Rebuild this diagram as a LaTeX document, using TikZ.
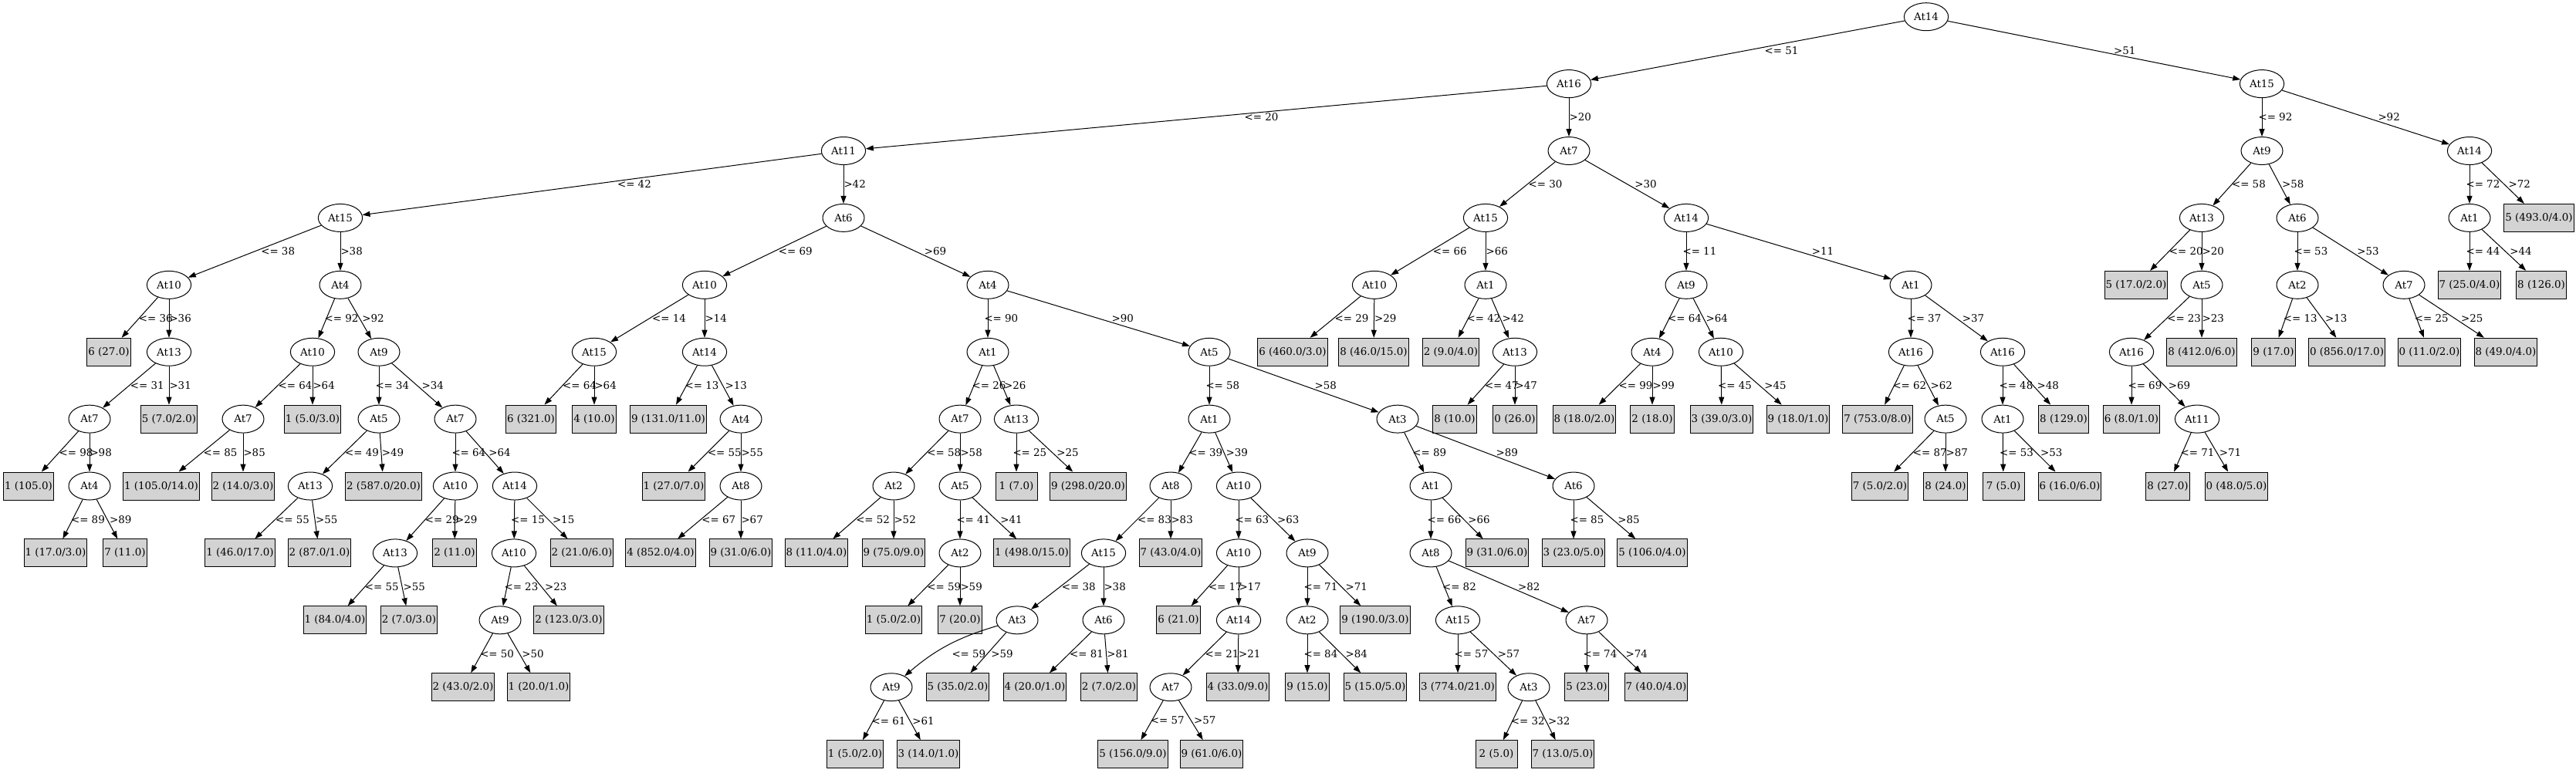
\documentclass[tikz,border=0pt]{standalone}
\usepackage{fontspec}
\setmainfont{DejaVu Serif}
\usetikzlibrary{shapes.geometric,arrows.meta,calc}
\definecolor{leafgray}{HTML}{D3D3D3}
\tikzset{>={Triangle[length=10pt,width=7pt]}}
\tikzset{
  attr/.style={draw,ellipse,minimum width=54pt,minimum height=36pt,inner xsep=4.3pt,inner ysep=2pt},
  leaf/.style={draw,fill=leafgray,minimum width=54pt,minimum height=36pt,inner xsep=1.5pt,inner ysep=0pt},
  lbl/.style={anchor=west,inner sep=0pt}
}
\newcommand{\tbranch}[4]{%
  \draw[->] (#1) -- (#2);
  \path let \p1=(#1), \p2=(#2) in
    node[lbl] (e#2) at ($(#1)!.5!(#2)+({5*abs(\x2-\x1)/abs(\y2-\y1)#4},0)$) {#3};}
\newcommand{\brle}[3]{\tbranch{#1}{#2}{<= #3}{-5}}
\newcommand{\brgt}[3]{\tbranch{#1}{#2}{>#3}{+0}}

\begin{document}
\begin{tikzpicture}[x=1pt,y=-86.9pt,line width=1pt,every node/.style={font=\fontsize{13.4}{16}\selectfont}]
            \useasboundingbox (0,-0.25) rectangle (3338,11.27);
            \node[attr] (t) at (2496,0) {At14};
            \node[attr] (tl) at (2033,1) {At16};
            \node[attr] (tr) at (2931,1) {At15};
            \node[attr] (tll) at (1093,2) {At11};
            \node[attr] (tlr) at (2033,2) {At7};
            \node[attr] (trl) at (2931,2) {At9};
            \node[attr] (trr) at (3200,2) {At14};
            \node[attr] (tlll) at (441,3) {At15};
            \node[attr] (tllr) at (1093,3) {At6};
            \node[attr] (tlrl) at (1925,3) {At15};
            \node[attr] (tlrr) at (2185,3) {At14};
            \node[attr] (trll) at (2853,3) {At13};
            \node[attr] (trlr) at (2977,3) {At6};
            \node[attr] (trrl) at (3200,3) {At1};
            \node[leaf] (trrr) at (3290,3) {5 (493.0/4.0)};
            \node[attr] (tllll) at (219,4) {At10};
            \node[attr] (tlllr) at (441,4) {At4};
            \node[attr] (tllrl) at (913,4) {At10};
            \node[attr] (tllrr) at (1280,4) {At4};
            \node[attr] (tlrll) at (1781,4) {At10};
            \node[attr] (tlrlr) at (1925,4) {At1};
            \node[attr] (tlrrl) at (2185,4) {At9};
            \node[attr] (tlrrr) at (2476,4) {At1};
            \node[leaf] (trlll) at (2768,4) {5 (17.0/2.0)};
            \node[attr] (trllr) at (2853,4) {At5};
            \node[attr] (trlrl) at (2977,4) {At2};
            \node[attr] (trlrr) at (3115,4) {At7};
            \node[leaf] (trrll) at (3200,4) {7 (25.0/4.0)};
            \node[leaf] (trrlr) at (3293,4) {8 (126.0)};
            \node[leaf] (tlllll) at (141,5) {6 (27.0)};
            \node[attr] (tllllr) at (219,5) {At13};
            \node[attr] (tlllrl) at (405,5) {At10};
            \node[attr] (tlllrr) at (491,5) {At9};
            \node[attr] (tllrll) at (770,5) {At15};
            \node[attr] (tllrlr) at (913,5) {At14};
            \node[attr] (tllrrl) at (1280,5) {At1};
            \node[attr] (tllrrr) at (1567,5) {At5};
            \node[leaf] (tlrlll) at (1675,5) {6 (460.0/3.0)};
            \node[leaf] (tlrllr) at (1780,5) {8 (46.0/15.0)};
            \node[leaf] (tlrlrl) at (1880,5) {2 (9.0/4.0)};
            \node[attr] (tlrlrr) at (1963,5) {At13};
            \node[attr] (tlrrll) at (2141,5) {At4};
            \node[attr] (tlrrlr) at (2230,5) {At10};
            \node[attr] (tlrrrl) at (2476,5) {At16};
            \node[attr] (tlrrrr) at (2595,5) {At16};
            \node[attr] (trllrl) at (2762,5) {At16};
            \node[leaf] (trllrr) at (2853,5) {8 (412.0/6.0)};
            \node[leaf] (trlrll) at (2946,5) {9 (17.0)};
            \node[leaf] (trlrlr) at (3041,5) {0 (856.0/17.0)};
            \node[leaf] (trlrrl) at (3148,5) {0 (11.0/2.0)};
            \node[leaf] (trlrrr) at (3247,5) {8 (49.0/4.0)};
            \node[attr] (tllllrl) at (116,6) {At7};
            \node[leaf] (tllllrr) at (219,6) {5 (7.0/2.0)};
            \node[attr] (tlllrll) at (315,6) {At7};
            \node[leaf] (tlllrlr) at (405,6) {1 (5.0/3.0)};
            \node[attr] (tlllrrl) at (491,6) {At5};
            \node[attr] (tlllrrr) at (590,6) {At7};
            \node[leaf] (tllrlll) at (688,6) {6 (321.0)};
            \node[leaf] (tllrllr) at (770,6) {4 (10.0)};
            \node[leaf] (tllrlrl) at (866,6) {9 (131.0/11.0)};
            \node[attr] (tllrlrr) at (960,6) {At4};
            \node[attr] (tllrrll) at (1244,6) {At7};
            \node[attr] (tllrrlr) at (1317,6) {At13};
            \node[attr] (tllrrrl) at (1567,6) {At1};
            \node[attr] (tllrrrr) at (1811,6) {At3};
            \node[leaf] (tlrlrrl) at (1885,6) {8 (10.0)};
            \node[leaf] (tlrlrrr) at (1963,6) {0 (26.0)};
            \node[leaf] (tlrrlll) at (2053,6) {8 (18.0/2.0)};
            \node[leaf] (tlrrllr) at (2141,6) {2 (18.0)};
            \node[leaf] (tlrrlrl) at (2231,6) {3 (39.0/3.0)};
            \node[leaf] (tlrrlrr) at (2330,6) {9 (18.0/1.0)};
            \node[leaf] (tlrrrll) at (2433,6) {7 (753.0/8.0)};
            \node[attr] (tlrrrlr) at (2521,6) {At5};
            \node[attr] (tlrrrrl) at (2595,6) {At1};
            \node[leaf] (tlrrrrr) at (2674,6) {8 (129.0)};
            \node[leaf] (trllrll) at (2762,6) {6 (8.0/1.0)};
            \node[attr] (trllrlr) at (2847,6) {At11};
            \node[leaf] (tllllrll) at (37,7) {1 (105.0)};
            \node[attr] (tllllrlr) at (116,7) {At4};
            \node[leaf] (tlllrlll) at (209,7) {1 (105.0/14.0)};
            \node[leaf] (tlllrllr) at (315,7) {2 (14.0/3.0)};
            \node[attr] (tlllrrll) at (402,7) {At13};
            \node[leaf] (tlllrrlr) at (497,7) {2 (587.0/20.0)};
            \node[attr] (tlllrrrl) at (590,7) {At10};
            \node[attr] (tlllrrrr) at (667,7) {At14};
            \node[leaf] (tllrlrrl) at (873,7) {1 (27.0/7.0)};
            \node[attr] (tllrlrrr) at (960,7) {At8};
            \node[attr] (tllrrlll) at (1158,7) {At2};
            \node[attr] (tllrrllr) at (1244,7) {At5};
            \node[leaf] (tllrrlrl) at (1317,7) {1 (7.0)};
            \node[leaf] (tllrrlrr) at (1410,7) {9 (298.0/20.0)};
            \node[attr] (tllrrrll) at (1517,7) {At8};
            \node[attr] (tllrrrlr) at (1605,7) {At10};
            \node[attr] (tllrrrrl) at (1854,7) {At1};
            \node[attr] (tllrrrrr) at (2039,7) {At6};
            \node[leaf] (tlrrrlrl) at (2436,7) {7 (5.0/2.0)};
            \node[leaf] (tlrrrlrr) at (2521,7) {8 (24.0)};
            \node[leaf] (tlrrrrll) at (2596,7) {7 (5.0)};
            \node[leaf] (tlrrrrlr) at (2682,7) {6 (16.0/6.0)};
            \node[leaf] (trllrlrl) at (2809,7) {8 (27.0)};
            \node[leaf] (trllrlrr) at (2898,7) {0 (48.0/5.0)};
            \node[leaf] (tllllrlrl) at (72,8) {1 (17.0/3.0)};
            \node[leaf] (tllllrlrr) at (162,8) {7 (11.0)};
            \node[leaf] (tlllrrlll) at (311,8) {1 (46.0/17.0)};
            \node[leaf] (tlllrrllr) at (414,8) {2 (87.0/1.0)};
            \node[attr] (tlllrrrll) at (512,8) {At13};
            \node[leaf] (tlllrrrlr) at (589,8) {2 (11.0)};
            \node[attr] (tlllrrrrl) at (666,8) {At10};
            \node[leaf] (tlllrrrrr) at (754,8) {2 (21.0/6.0)};
            \node[leaf] (tllrlrrrl) at (856,8) {4 (852.0/4.0)};
            \node[leaf] (tllrlrrrr) at (960,8) {9 (31.0/6.0)};
            \node[leaf] (tllrrllll) at (1058,8) {8 (11.0/4.0)};
            \node[leaf] (tllrrlllr) at (1158,8) {9 (75.0/9.0)};
            \node[attr] (tllrrllrl) at (1244,8) {At2};
            \node[leaf] (tllrrllrr) at (1337,8) {1 (498.0/15.0)};
            \node[attr] (tllrrrlll) at (1430,8) {At15};
            \node[leaf] (tllrrrllr) at (1517,8) {7 (43.0/4.0)};
            \node[attr] (tllrrrlrl) at (1605,8) {At10};
            \node[attr] (tllrrrlrr) at (1694,8) {At9};
            \node[attr] (tllrrrrll) at (1854,8) {At8};
            \node[leaf] (tllrrrrlr) at (1940,8) {9 (31.0/6.0)};
            \node[leaf] (tllrrrrrl) at (2039,8) {3 (23.0/5.0)};
            \node[leaf] (tllrrrrrr) at (2141,8) {5 (106.0/4.0)};
            \node[leaf] (tlllrrrlll) at (434,9) {1 (84.0/4.0)};
            \node[leaf] (tlllrrrllr) at (530,9) {2 (7.0/3.0)};
            \node[attr] (tlllrrrrll) at (648,9) {At9};
            \node[leaf] (tlllrrrrlr) at (737,9) {2 (123.0/3.0)};
            \node[leaf] (tllrrllrll) at (1158,9) {1 (5.0/2.0)};
            \node[leaf] (tllrrllrlr) at (1244,9) {7 (20.0)};
            \node[attr] (tllrrrllll) at (1318,9) {At3};
            \node[attr] (tllrrrlllr) at (1430,9) {At6};
            \node[leaf] (tllrrrlrll) at (1527,9) {6 (21.0)};
            \node[attr] (tllrrrlrlr) at (1605,9) {At14};
            \node[attr] (tllrrrlrrl) at (1694,9) {At2};
            \node[leaf] (tllrrrlrrr) at (1782,9) {9 (190.0/3.0)};
            \node[attr] (tllrrrrlll) at (1889,9) {At15};
            \node[attr] (tllrrrrllr) at (2056,9) {At7};
            \node[leaf] (tlllrrrrlll) at (600,10) {2 (43.0/2.0)};
            \node[leaf] (tlllrrrrllr) at (698,10) {1 (20.0/1.0)};
            \node[attr] (tllrrrlllll) at (1155,10) {At9};
            \node[leaf] (tllrrrllllr) at (1241,10) {5 (35.0/2.0)};
            \node[leaf] (tllrrrlllrl) at (1341,10) {4 (20.0/1.0)};
            \node[leaf] (tllrrrlllrr) at (1437,10) {2 (7.0/2.0)};
            \node[attr] (tllrrrlrlrl) at (1517,10) {At7};
            \node[leaf] (tllrrrlrlrr) at (1604,10) {4 (33.0/9.0)};
            \node[leaf] (tllrrrlrrll) at (1694,10) {9 (15.0)};
            \node[leaf] (tllrrrlrrlr) at (1782,10) {5 (15.0/5.0)};
            \node[leaf] (tllrrrrllll) at (1889,10) {3 (774.0/21.0)};
            \node[attr] (tllrrrrlllr) at (1981,10) {At3};
            \node[leaf] (tllrrrrllrl) at (2056,10) {5 (23.0)};
            \node[leaf] (tllrrrrllrr) at (2146,10) {7 (40.0/4.0)};
            \node[leaf] (tllrrrllllll) at (1108,11) {1 (5.0/2.0)};
            \node[leaf] (tllrrrlllllr) at (1203,11) {3 (14.0/1.0)};
            \node[leaf] (tllrrrlrlrll) at (1468,11) {5 (156.0/9.0)};
            \node[leaf] (tllrrrlrlrlr) at (1570,11) {9 (61.0/6.0)};
            \node[leaf] (tllrrrrlllrl) at (1939,11) {2 (5.0)};
            \node[leaf] (tllrrrrlllrr) at (2025,11) {7 (13.0/5.0)};

            \brle{t}{tl}{51} \brgt{t}{tr}{51}
            \brle{tl}{tll}{20} \brgt{tl}{tlr}{20}
            \brle{tr}{trl}{92} \brgt{tr}{trr}{92}
            \brle{tll}{tlll}{42} \brgt{tll}{tllr}{42}
            \brle{tlr}{tlrl}{30} \brgt{tlr}{tlrr}{30}
            \brle{trl}{trll}{58} \brgt{trl}{trlr}{58}
            \brle{trr}{trrl}{72} \brgt{trr}{trrr}{72}
            \brle{tlll}{tllll}{38} \brgt{tlll}{tlllr}{38}
            \brle{tllr}{tllrl}{69} \brgt{tllr}{tllrr}{69}
            \brle{tlrl}{tlrll}{66} \brgt{tlrl}{tlrlr}{66}
            \brle{tlrr}{tlrrl}{11} \brgt{tlrr}{tlrrr}{11}
            \brle{trll}{trlll}{20} \brgt{trll}{trllr}{20}
            \brle{trlr}{trlrl}{53} \brgt{trlr}{trlrr}{53}
            \brle{trrl}{trrll}{44} \brgt{trrl}{trrlr}{44}
            \brle{tllll}{tlllll}{36} \brgt{tllll}{tllllr}{36}
            \brle{tlllr}{tlllrl}{92} \brgt{tlllr}{tlllrr}{92}
            \brle{tllrl}{tllrll}{14} \brgt{tllrl}{tllrlr}{14}
            \brle{tllrr}{tllrrl}{90} \brgt{tllrr}{tllrrr}{90}
            \brle{tlrll}{tlrlll}{29} \brgt{tlrll}{tlrllr}{29}
            \brle{tlrlr}{tlrlrl}{42} \brgt{tlrlr}{tlrlrr}{42}
            \brle{tlrrl}{tlrrll}{64} \brgt{tlrrl}{tlrrlr}{64}
            \brle{tlrrr}{tlrrrl}{37} \brgt{tlrrr}{tlrrrr}{37}
            \brle{trllr}{trllrl}{23} \brgt{trllr}{trllrr}{23}
            \brle{trlrl}{trlrll}{13} \brgt{trlrl}{trlrlr}{13}
            \brle{trlrr}{trlrrl}{25} \brgt{trlrr}{trlrrr}{25}
            \brle{tllllr}{tllllrl}{31} \brgt{tllllr}{tllllrr}{31}
            \brle{tlllrl}{tlllrll}{64} \brgt{tlllrl}{tlllrlr}{64}
            \brle{tlllrr}{tlllrrl}{34} \brgt{tlllrr}{tlllrrr}{34}
            \brle{tllrll}{tllrlll}{64} \brgt{tllrll}{tllrllr}{64}
            \brle{tllrlr}{tllrlrl}{13} \brgt{tllrlr}{tllrlrr}{13}
            \brle{tllrrl}{tllrrll}{26} \brgt{tllrrl}{tllrrlr}{26}
            \brle{tllrrr}{tllrrrl}{58} \brgt{tllrrr}{tllrrrr}{58}
            \brle{tlrlrr}{tlrlrrl}{47} \brgt{tlrlrr}{tlrlrrr}{47}
            \brle{tlrrll}{tlrrlll}{99} \brgt{tlrrll}{tlrrllr}{99}
            \brle{tlrrlr}{tlrrlrl}{45} \brgt{tlrrlr}{tlrrlrr}{45}
            \brle{tlrrrl}{tlrrrll}{62} \brgt{tlrrrl}{tlrrrlr}{62}
            \brle{tlrrrr}{tlrrrrl}{48} \brgt{tlrrrr}{tlrrrrr}{48}
            \brle{trllrl}{trllrll}{69} \brgt{trllrl}{trllrlr}{69}
            \brle{tllllrl}{tllllrll}{98} \brgt{tllllrl}{tllllrlr}{98}
            \brle{tlllrll}{tlllrlll}{85} \brgt{tlllrll}{tlllrllr}{85}
            \brle{tlllrrl}{tlllrrll}{49} \brgt{tlllrrl}{tlllrrlr}{49}
            \brle{tlllrrr}{tlllrrrl}{64} \brgt{tlllrrr}{tlllrrrr}{64}
            \brle{tllrlrr}{tllrlrrl}{55} \brgt{tllrlrr}{tllrlrrr}{55}
            \brle{tllrrll}{tllrrlll}{58} \brgt{tllrrll}{tllrrllr}{58}
            \brle{tllrrlr}{tllrrlrl}{25} \brgt{tllrrlr}{tllrrlrr}{25}
            \brle{tllrrrl}{tllrrrll}{39} \brgt{tllrrrl}{tllrrrlr}{39}
            \brle{tllrrrr}{tllrrrrl}{89} \brgt{tllrrrr}{tllrrrrr}{89}
            \brle{tlrrrlr}{tlrrrlrl}{87} \brgt{tlrrrlr}{tlrrrlrr}{87}
            \brle{tlrrrrl}{tlrrrrll}{53} \brgt{tlrrrrl}{tlrrrrlr}{53}
            \brle{trllrlr}{trllrlrl}{71} \brgt{trllrlr}{trllrlrr}{71}
            \brle{tllllrlr}{tllllrlrl}{89} \brgt{tllllrlr}{tllllrlrr}{89}
            \brle{tlllrrll}{tlllrrlll}{55} \brgt{tlllrrll}{tlllrrllr}{55}
            \brle{tlllrrrl}{tlllrrrll}{29} \brgt{tlllrrrl}{tlllrrrlr}{29}
            \brle{tlllrrrr}{tlllrrrrl}{15} \brgt{tlllrrrr}{tlllrrrrr}{15}
            \brle{tllrlrrr}{tllrlrrrl}{67} \brgt{tllrlrrr}{tllrlrrrr}{67}
            \brle{tllrrlll}{tllrrllll}{52} \brgt{tllrrlll}{tllrrlllr}{52}
            \brle{tllrrllr}{tllrrllrl}{41} \brgt{tllrrllr}{tllrrllrr}{41}
            \brle{tllrrrll}{tllrrrlll}{83} \brgt{tllrrrll}{tllrrrllr}{83}
            \brle{tllrrrlr}{tllrrrlrl}{63} \brgt{tllrrrlr}{tllrrrlrr}{63}
            \brle{tllrrrrl}{tllrrrrll}{66} \brgt{tllrrrrl}{tllrrrrlr}{66}
            \brle{tllrrrrr}{tllrrrrrl}{85} \brgt{tllrrrrr}{tllrrrrrr}{85}
            \brle{tlllrrrll}{tlllrrrlll}{55} \brgt{tlllrrrll}{tlllrrrllr}{55}
            \brle{tlllrrrrl}{tlllrrrrll}{23} \brgt{tlllrrrrl}{tlllrrrrlr}{23}
            \brle{tllrrllrl}{tllrrllrll}{59} \brgt{tllrrllrl}{tllrrllrlr}{59}
            \brle{tllrrrlll}{tllrrrllll}{38} \brgt{tllrrrlll}{tllrrrlllr}{38}
            \brle{tllrrrlrl}{tllrrrlrll}{17} \brgt{tllrrrlrl}{tllrrrlrlr}{17}
            \brle{tllrrrlrr}{tllrrrlrrl}{71} \brgt{tllrrrlrr}{tllrrrlrrr}{71}
            \brle{tllrrrrll}{tllrrrrlll}{82} \brgt{tllrrrrll}{tllrrrrllr}{82}
            \brle{tlllrrrrll}{tlllrrrrlll}{50} \brgt{tlllrrrrll}{tlllrrrrllr}{50}
            \draw[->] (tllrrrllll) to[bend right=12] (tllrrrlllll);
            \node[lbl] (etllrrrlllll) at (1233,9.5) {<= 59};
            \brgt{tllrrrllll}{tllrrrllllr}{59}
            \brle{tllrrrlllr}{tllrrrlllrl}{81} \brgt{tllrrrlllr}{tllrrrlllrr}{81}
            \brle{tllrrrlrlr}{tllrrrlrlrl}{21} \brgt{tllrrrlrlr}{tllrrrlrlrr}{21}
            \brle{tllrrrlrrl}{tllrrrlrrll}{84} \brgt{tllrrrlrrl}{tllrrrlrrlr}{84}
            \brle{tllrrrrlll}{tllrrrrllll}{57} \brgt{tllrrrrlll}{tllrrrrlllr}{57}
            \brle{tllrrrrllr}{tllrrrrllrl}{74} \brgt{tllrrrrllr}{tllrrrrllrr}{74}
            \brle{tllrrrlllll}{tllrrrllllll}{61} \brgt{tllrrrlllll}{tllrrrlllllr}{61}
            \brle{tllrrrlrlrl}{tllrrrlrlrll}{57} \brgt{tllrrrlrlrl}{tllrrrlrlrlr}{57}
            \brle{tllrrrrlllr}{tllrrrrlllrl}{32} \brgt{tllrrrrlllr}{tllrrrrlllrr}{32}
        \end{tikzpicture}
\end{document}
